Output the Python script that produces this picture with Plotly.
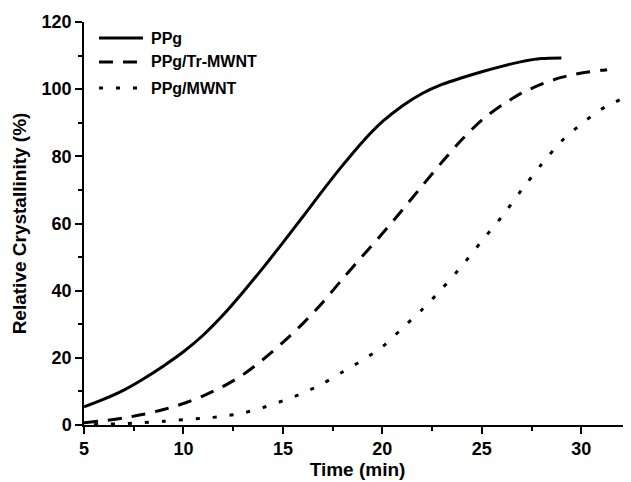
import plotly.graph_objects as go

# ---- data ----
t_ppg = [5, 6, 7, 8, 9, 10, 11, 12, 13, 14, 15, 16, 17, 18, 19, 20, 21,
         22, 23, 24, 25, 26, 27, 28, 29]
v_ppg = [5.4, 7.7, 10.4, 13.8, 17.6, 21.8, 26.8, 32.8, 39.6, 46.8, 54.3, 62, 69.8,
         77.3, 84.3, 90.3, 95, 98.7, 101.4, 103.4, 105.2, 106.8, 108.2, 109.1, 109.3]

t_tr = [5, 6, 7, 8, 9, 10, 11, 12, 13, 14, 15, 16, 17, 18, 19, 20,
        21, 22, 23, 24, 25, 26, 27, 28, 29, 30, 31, 31.3]
v_tr = [0.7, 1.3, 2.1, 3.2, 4.6, 6.4, 8.7, 11.5, 15, 19.5, 24.6, 30.2, 36.5,
        43.5, 50.3, 57, 64, 71.2, 78.3, 85, 90.8, 95.2, 98.8, 101.5, 103.5, 104.8,
        105.6, 105.8]

t_mw = [5.5, 6, 7, 8, 9, 10, 11, 12, 13, 14, 15, 16, 17, 18, 19, 20,
        21, 22, 23, 24, 25, 26, 27, 28, 29, 30, 31, 32]
v_mw = [0.1, 0.2, 0.4, 0.7, 1.1, 1.6, 2.0, 2.6, 3.6, 5.2, 7.2, 9.5, 12.3,
        15.8, 19.3, 23.3, 28.8, 34.4, 40.6, 47.4, 54.8, 62, 70, 77.6, 84.5, 89.6,
        94, 97]

series_names = ["PPg", "PPg/Tr-MWNT", "PPg/MWNT"]
x_ticks = [5, 10, 15, 20, 25, 30]
y_ticks = [0, 20, 40, 60, 80, 100, 120]

FONT = "Liberation Sans, Arial, Helvetica, sans-serif"
dashes = ["solid", "14px,10px", "4px,13px"]

fig = go.Figure()
for (tx, vy, name, dsh) in [(t_ppg, v_ppg, series_names[0], dashes[0]),
                            (t_tr, v_tr, series_names[1], dashes[1]),
                            (t_mw, v_mw, series_names[2], dashes[2])]:
    fig.add_trace(go.Scatter(x=tx, y=vy, mode="lines", name=name,
                             line=dict(color="black", width=3, dash=dsh,
                                       shape="spline", smoothing=0.8),
                             showlegend=False))

# manual legend (drawn like the original)
leg_y = [0.960, 0.901, 0.836]
for name, dsh, yy in zip(series_names, dashes, leg_y):
    fig.add_shape(type="line", xref="paper", yref="paper", x0=0.0274, x1=0.1079,
                  y0=yy, y1=yy, line=dict(color="black", width=3, dash=dsh))
    fig.add_annotation(xref="paper", yref="paper", x=0.1188, y=yy, text=name,
                       showarrow=False, xanchor="left", yanchor="middle",
                       font=dict(family=FONT, size=16, color="black", weight="bold"))

axis_common = dict(showline=True, linecolor="black", linewidth=1.5, mirror=False,
                   showgrid=False, zeroline=False, ticks="outside", ticklen=7,
                   tickwidth=1.5, tickcolor="black", automargin=False,
                   tickfont=dict(family=FONT, size=18, color="black", weight="bold"))

fig.update_xaxes(range=[5, 32.5], tickvals=x_ticks, ticktext=[str(v) for v in x_ticks],
                 minor=dict(ticks="outside", ticklen=4, dtick=2.5, tick0=5,
                            tickcolor="black", tickwidth=1.5),
                 title=dict(text="Time (min)", standoff=2,
                            font=dict(family=FONT, size=19, color="black", weight="bold")),
                 **axis_common)
fig.update_yaxes(range=[0, 120], tickvals=y_ticks, ticktext=[str(v) for v in y_ticks],
                 minor=dict(ticks="outside", ticklen=4, dtick=10, tick0=0,
                            tickcolor="black", tickwidth=1.5),
                 title=dict(text="Relative Crystallinity (%)", standoff=10,
                            font=dict(family=FONT, size=19, color="black", weight="bold")),
                 **axis_common)

# the page adds an 8px body margin, so the figure is sized to fit the window
fig.update_layout(width=623, height=474, plot_bgcolor="white", paper_bgcolor="white",
                  margin=dict(l=76, r=0, t=14, b=57), showlegend=False)

fig.write_html("out.html")
